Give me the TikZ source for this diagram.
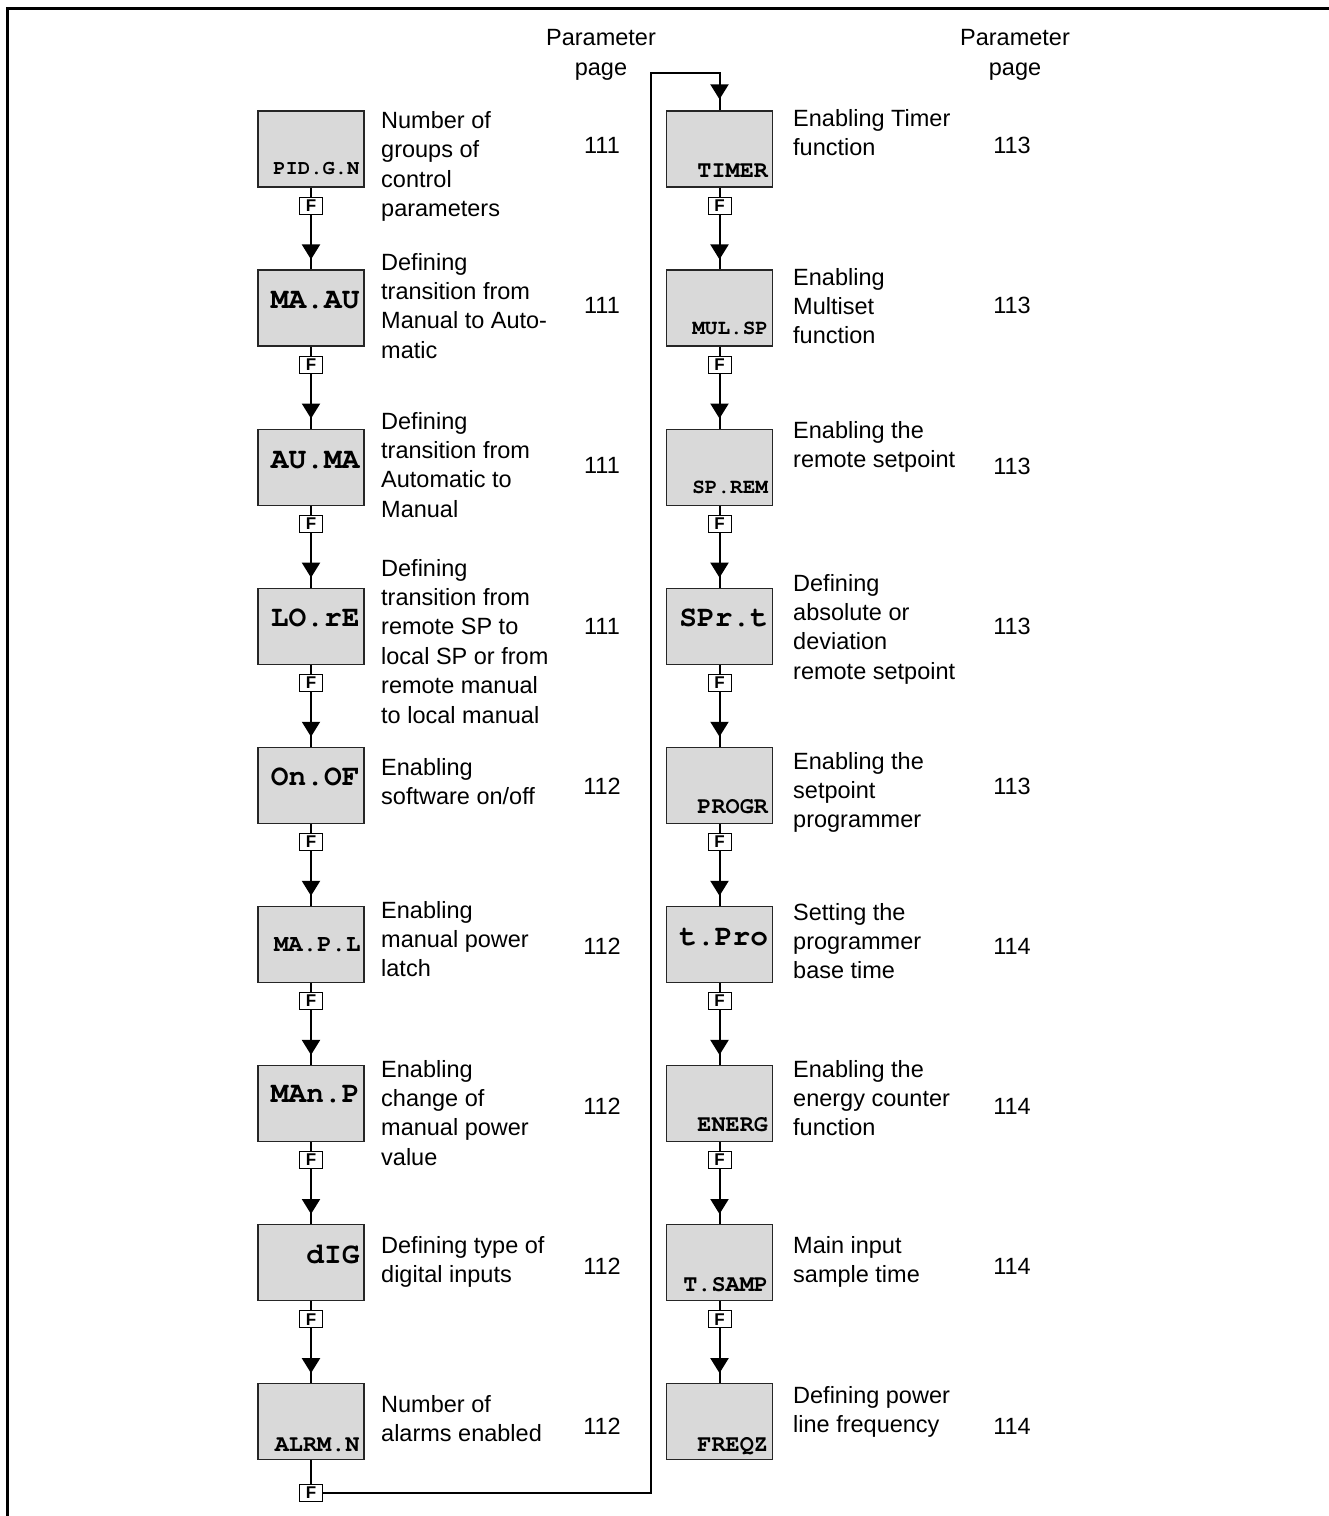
\documentclass[tikz,border=0pt]{standalone}
\usepackage[T1]{fontenc}
\usepackage{fontspec}
\setmainfont{Liberation Sans}
\setmonofont{Liberation Mono}
\newcommand{\courb}{\usefont{T1}{pcr}{b}{n}}
\usetikzlibrary{arrows.meta}
\begin{document}
\begin{tikzpicture}[x=1pt,y=-1pt,
  dbox/.style={draw=black!85, fill=black!15, line width=1.3pt, minimum width=106pt, minimum height=76pt, inner sep=0pt},
  fbox/.style={draw, fill=white, line width=0.9pt, minimum width=23pt, minimum height=17pt, inner sep=0pt, font=\fontsize{17}{17}\selectfont\bfseries},
  desc/.style={anchor=base west, align=left, inner sep=0pt, font=\fontsize{23.5}{29.4}\selectfont},
  pg/.style={anchor=base, inner sep=0pt, font=\fontsize{23.5}{29.4}\selectfont},
  hdr/.style={align=center, inner sep=0pt, font=\fontsize{23.5}{30}\selectfont},
  big/.style={anchor=base east, inner sep=0pt, font=\courb\fontsize{29.5}{29.5}\selectfont},
  mid/.style={anchor=base east, inner sep=0pt, font=\courb\fontsize{24}{24}\selectfont},
  small/.style={anchor=base east, inner sep=0pt, font=\courb\fontsize{23.5}{23.5}\selectfont},
  tiny/.style={anchor=base east, inner sep=0pt, font=\courb\fontsize{21}{21}\selectfont},
  conn/.style={line width=2pt},
  arr/.style={line width=2pt, -{Triangle[length=15pt,width=18pt]}},
  frame/.style={line width=3pt}
]
\useasboundingbox (0,0) rectangle (1329,1516);
\draw[frame] (7.5,1516) -- (7.5,8) -- (1329,8);

% headers
\node[hdr] (h1) at (601,55) {Parameter\\page};
\node[hdr] (h2) at (1015,55) {Parameter\\page};

% boxes
\foreach \i in {0,...,8}{
  \pgfmathsetmacro\yc{149+159.1*\i}
  \node[dbox] (L\i) at (311,\yc) {};
  \node[dbox] (R\i) at (719.5,\yc) {};
}
% F boxes
\foreach \i in {0,...,7}{
  \pgfmathsetmacro\yf{205.5+159.1*\i}
  \node[fbox] (FL\i) at (311,\yf) {F};
  \node[fbox] (FR\i) at (719.5,\yf) {F};
}
\node[fbox] (FL8) at (311,1493) {F};

% connectors
\foreach \i [evaluate=\i as \j using int(\i+1)] in {0,...,7}{
  \draw[conn] (L\i.south) -- (FL\i.north);
  \draw[conn] (FL\i.south) -- (L\j.north);
  \draw[arr] (FL\i.south) -- ([yshift=10pt]L\j.north);
  \draw[conn] (R\i.south) -- (FR\i.north);
  \draw[conn] (FR\i.south) -- (R\j.north);
  \draw[arr] (FR\i.south) -- ([yshift=10pt]R\j.north);
}
\draw[conn] (L8.south) -- (FL8.north);
\coordinate (turn) at (651,73);
\draw[conn] (FL8.east) -| (turn) -| (R0.north);
\draw[arr] (719.5,73) -- ([yshift=11pt]R0.north);

% box labels, left
\node[tiny]  (tL0) at ([xshift=-5pt,yshift=-64pt]L0.north east) {\fontsize{20.5}{20.5}\selectfont PID.G.N};
\node[big]   (tL1) at ([xshift=-5pt,yshift=-39pt]L1.north east) {MA.AU};
\node[big]   (tL2) at ([xshift=-5pt,yshift=-40pt]L2.north east) {AU.MA};
\node[big]   (tL3) at ([xshift=-5pt,yshift=-39pt]L3.north east) {LO.rE};
\node[big]   (tL4) at ([xshift=-5pt,yshift=-39pt]L4.north east) {On.OF};
\node[mid]   (tL5) at ([xshift=-4pt,yshift=-45.5pt]L5.north east) {MA.P.L};
\node[big]   (tL6) at ([xshift=-5pt,yshift=-38pt]L6.north east) {MAn.P};
\node[big]   (tL7) at ([xshift=-5pt,yshift=-39pt]L7.north east) {dIG};
\node[small] (tL8) at ([xshift=-5pt,yshift=-68pt]L8.north east) {ALRM.N};
% box labels, right
\node[small] (tR0) at ([xshift=-5pt,yshift=-67pt]R0.north east) {TIMER};
\node[tiny]  (tR1) at ([xshift=-5pt,yshift=-65pt]R1.north east) {MUL.SP};
\node[tiny]  (tR2) at ([xshift=-5pt,yshift=-65pt]R2.north east) {SP.REM};
\node[big]   (tR3) at ([xshift=-5pt,yshift=-39pt]R3.north east) {SPr.t};
\node[small] (tR4) at ([xshift=-5pt,yshift=-67pt]R4.north east) {PROGR};
\node[big]   (tR5) at ([xshift=-5pt,yshift=-40pt]R5.north east) {t.Pro};
\node[small] (tR6) at ([xshift=-5pt,yshift=-67pt]R6.north east) {ENERG};
\node[small] (tR7) at ([xshift=-5pt,yshift=-67pt]R7.north east) {T.SAMP};
\node[small] (tR8) at ([xshift=-5pt,yshift=-68pt]R8.north east) {FREQZ};

% descriptions, left (anchor = baseline of last line)
\node[desc] (dL0) at (381,216.7) {Number of\\groups of\\control\\parameters};
\node[desc] (dL1) at (381,358.2) {Defining\\transition from\\Manual to Auto-\\matic};
\node[desc] (dL2) at (381,517.2) {Defining\\transition from\\Automatic to\\Manual};
\node[desc] (dL3) at (381,723) {Defining\\transition from\\remote SP to\\local SP or from\\remote manual\\to local manual};
\node[desc] (dL4) at (381,804.4) {Enabling\\software on/off};
\node[desc] (dL5) at (381,976.8) {Enabling\\manual power\\latch};
\node[desc] (dL6) at (381,1165.2) {Enabling\\change of\\manual power\\value};
\node[desc] (dL7) at (381,1282.4) {Defining type of\\digital inputs};
\node[desc] (dL8) at (381,1441.9) {Number of\\alarms enabled};
% descriptions, right
\node[desc] (dR0) at (793,155.4) {Enabling Timer\\function};
\node[desc] (dR1) at (793,343.8) {Enabling\\Multiset\\function};
\node[desc] (dR2) at (793,467.4) {Enabling the\\remote setpoint};
\node[desc] (dR3) at (793,679.2) {Defining\\absolute or\\deviation\\remote setpoint};
\node[desc] (dR4) at (793,827.8) {Enabling the\\setpoint\\programmer};
\node[desc] (dR5) at (793,978.8) {Setting the\\programmer\\base time};
\node[desc] (dR6) at (793,1135.8) {Enabling the\\energy counter\\function};
\node[desc] (dR7) at (793,1282.4) {Main input\\sample time};
\node[desc] (dR8) at (793,1432.4) {Defining power\\line frequency};

% page numbers
\node[pg] (pL0) at (602,153.3) {111};
\node[pg] (pL1) at (602,313.3) {111};
\node[pg] (pL2) at (602,473.3) {111};
\node[pg] (pL3) at (602,634.3) {111};
\node[pg] (pL4) at (602,794.3) {112};
\node[pg] (pL5) at (602,954.3) {112};
\node[pg] (pL6) at (602,1114.3) {112};
\node[pg] (pL7) at (602,1274.3) {112};
\node[pg] (pL8) at (602,1434.3) {112};
\node[pg] (pR0) at (1012,153.3) {113};
\node[pg] (pR1) at (1012,313.3) {113};
\node[pg] (pR2) at (1012,474.3) {113};
\node[pg] (pR3) at (1012,634.3) {113};
\node[pg] (pR4) at (1012,794.3) {113};
\node[pg] (pR5) at (1012,954.3) {114};
\node[pg] (pR6) at (1012,1114.3) {114};
\node[pg] (pR7) at (1012,1274.3) {114};
\node[pg] (pR8) at (1012,1434.3) {114};
\end{tikzpicture}
\end{document}
